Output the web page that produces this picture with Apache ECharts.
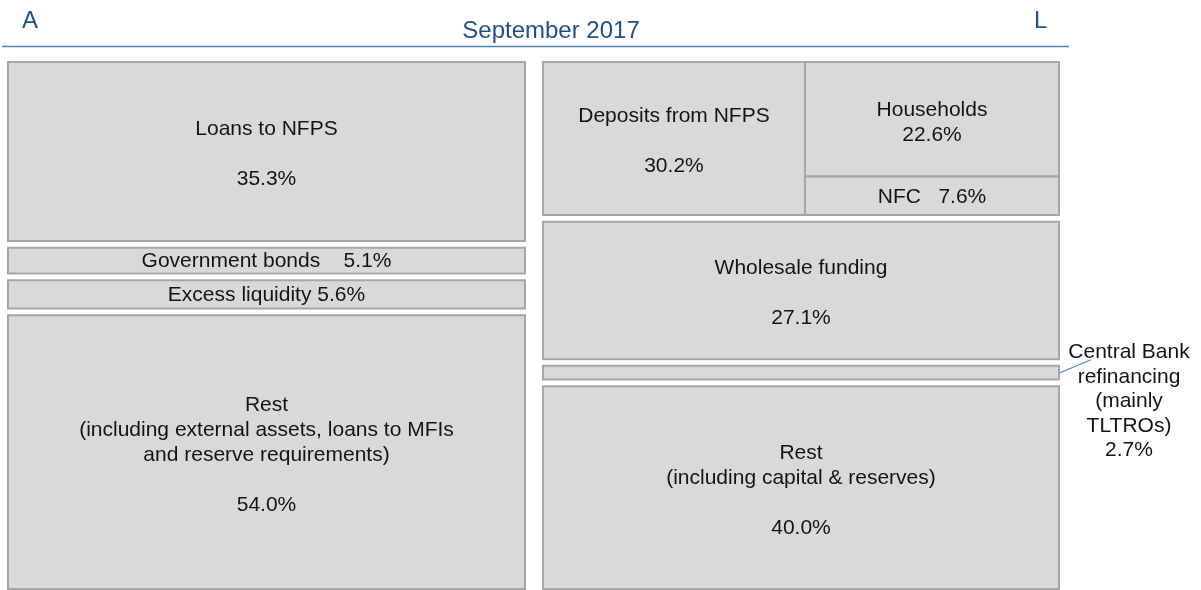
<!DOCTYPE html>
<html>
<head>
<meta charset="utf-8">
<script src="https://cdn.jsdelivr.net/npm/echarts@6/dist/echarts.min.js"></script>
<style>
  html, body { margin: 0; padding: 0; background: #fff; }
  #main { width: 1201px; height: 590px; }
</style>
</head>
<body>
<div id="main"></div>
<script>
// assets (left column), shares of total, %
var assetNames = [
  "Loans to NFPS",
  "Government bonds",
  "Excess liquidity",
  "Rest\n(including external assets, loans to MFIs\nand reserve requirements)"
];
var assetValues = [35.3, 5.1, 5.6, 54.0];
var assetFormats = ["{n}\n\n{v}%", "{n}    {v}%", "{n} {v}%", "{n}\n\n{v}%"];

// liabilities (right column)
var liabNames = [
  "Deposits from NFPS",
  "Wholesale funding",
  "Central Bank\nrefinancing\n(mainly\nTLTROs)",
  "Rest\n(including capital & reserves)"
];
var liabValues = [30.2, 27.1, 2.7, 40.0];
var liabFormats = ["{n}\n\n{v}%", "{n}\n\n{v}%", "{n}\n{v}%", "{n}\n\n{v}%"];

// split of deposits from NFPS
var depositNames = ["Households", "NFC"];
var depositValues = [22.6, 7.6];
var depositFormats = ["{n}\n{v}%", "{n}   {v}%"];

// layout in axis units
var GAP = 1.32;
var LEFT_COL = [0, 49.19];
var RIGHT_COL = [50.9, 100];
var SPLIT_X = 75.83;

function fmt(f, n, v) {
  return f.replace("{n}", n).replace("{v}", v.toFixed(1));
}

var blocks = [];
var y = 0;
assetValues.forEach(function (v, i) {
  blocks.push({ x0: LEFT_COL[0], x1: LEFT_COL[1], y0: y, y1: y + v, text: fmt(assetFormats[i], assetNames[i], v) });
  y += v + GAP;
});
y = 0;
liabValues.forEach(function (v, i) {
  var x1 = i === 0 ? SPLIT_X : RIGHT_COL[1];
  blocks.push({ x0: RIGHT_COL[0], x1: x1, y0: y, y1: y + v, text: fmt(liabFormats[i], liabNames[i], v), outside: i === 2 });
  if (i === 0) {
    // households / NFC stacked beside deposits
    var d = y;
    depositValues.forEach(function (dv, j) {
      blocks.push({ x0: SPLIT_X, x1: RIGHT_COL[1], y0: d, y1: d + dv, text: fmt(depositFormats[j], depositNames[j], dv) });
      d += dv;
    });
  }
  y += v + GAP;
});
var yMax = 100 + 3 * GAP;

var chart = echarts.init(document.getElementById("main"));

var headStyle = { color: "#24508a", fontSize: 24, fontWeight: "normal", fontFamily: "Liberation Sans" };

var option = {
  animation: false,
  title: [
    { text: "A", left: 17, top: 4, textStyle: headStyle },
    { text: "September 2017", left: 546, textAlign: "center", top: 14, textStyle: headStyle },
    { text: "L", left: 1029, top: 4, textStyle: headStyle }
  ],
  graphic: [
    { type: "line", shape: { x1: 2, y1: 46.5, x2: 1069, y2: 46.5 }, style: { stroke: "#4f81bd", lineWidth: 1.5 } }
  ],
  grid: { left: 8, right: 142, top: 62, bottom: 1 },
  xAxis: { type: "value", min: 0, max: 100, show: false },
  yAxis: { type: "value", min: 0, max: yMax, inverse: true, show: false },
  series: [
    {
      type: "custom",
      silent: true,
      data: blocks.map(function (b) { return [b.x0, b.x1, b.y0, b.y1]; }),
      renderItem: function (params, api) {
        var b = blocks[params.dataIndex];
        var p0 = api.coord([api.value(0), api.value(2)]);
        var p1 = api.coord([api.value(1), api.value(3)]);
        var children = [
          {
            type: "rect",
            shape: { x: p0[0], y: p0[1], width: p1[0] - p0[0], height: p1[1] - p0[1] },
            style: { fill: "#d9d9d9", stroke: "#a6a6a6", lineWidth: 2 }
          }
        ];
        var midY = (p0[1] + p1[1]) / 2;
        var textStyle = {
          text: b.text,
          fill: "#141414",
          fontSize: 21,
          fontFamily: "Liberation Sans",
          align: "center",
          verticalAlign: "middle",
          lineHeight: 25
        };
        if (b.outside) {
          children.push({
            type: "line",
            shape: { x1: p1[0] + 1, y1: midY, x2: p1[0] + 32, y2: midY - 13 },
            style: { stroke: "#4f81bd", lineWidth: 1.2 }
          });
          textStyle.lineHeight = 24.5;
          children.push({ type: "text", x: p1[0] + 70, y: midY + 29, style: textStyle });
        } else {
          var small = p1[1] - p0[1] < 40;
          children.push({ type: "text", x: (p0[0] + p1[0]) / 2, y: midY + (small ? 1 : 3), style: textStyle });
        }
        return { type: "group", children: children };
      }
    }
  ]
};

chart.setOption(option);
</script>
</body>
</html>
